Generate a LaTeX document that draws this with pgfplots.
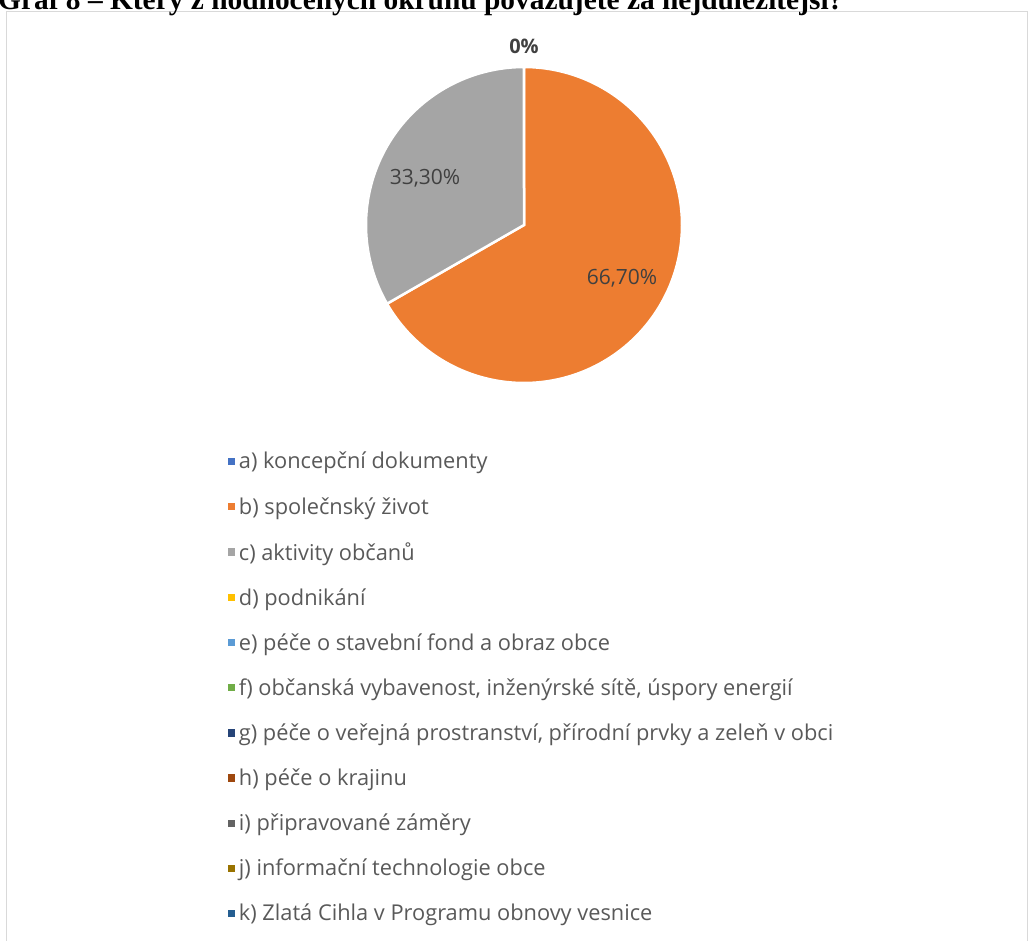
\documentclass[border=0pt]{standalone}
\usepackage{pgfplots}
\pgfplotsset{compat=1.18}
\usepackage{fontspec}
\setmainfont{Open Sans}
\newfontfamily\titlefont{Liberation Serif}
\definecolor{ca}{HTML}{4472C4}
\definecolor{cb}{HTML}{ED7D31}
\definecolor{cc}{HTML}{A5A5A5}
\definecolor{cd}{HTML}{FFC000}
\definecolor{ce}{HTML}{5B9BD5}
\definecolor{cf}{HTML}{70AD47}
\definecolor{cg}{HTML}{264478}
\definecolor{ch}{HTML}{9E480E}
\definecolor{ci}{HTML}{636363}
\definecolor{cj}{HTML}{997300}
\definecolor{ck}{HTML}{255E91}
\definecolor{txt}{HTML}{595959}
\definecolor{lbl}{HTML}{404040}
\begin{document}
\begin{tikzpicture}
\clip (0,0) rectangle (1030pt,940pt);
\begin{axis}[
  scale only axis, width=1030pt, height=940pt,
  xmin=0, xmax=1030, ymin=0, ymax=940, y dir=reverse,
  hide axis, clip=false,
  legend style={draw=none, fill=none, at={(axis cs:227.5,452)}, anchor=north west,
    font=\fontsize{21.8}{26}\selectfont, text=txt, row sep=26.9pt,
    legend cell align=left, inner sep=0pt,
    nodes={inner xsep=4pt, inner ysep=0pt}},
  legend image code/.code={\fill[#1, draw=none] (2pt,-3.6pt) rectangle (9.2pt,3.6pt);},
]
% frame and title
\draw[draw=black!15, line width=1pt] (axis cs:6,960) -- (axis cs:6,11) -- (axis cs:1027,11) -- (axis cs:1027,960);
\node[anchor=base west, inner sep=0pt, font=\titlefont\bfseries\fontsize{29.4}{32}\selectfont] at (axis cs:-2,9) {Graf 8 – Který z hodnocených okruhů považujete za nejdůležitější?};
% pie: b) 66.7 %, c) 33.3 %, others 0 %
\addplot[forget plot, fill=cb, draw=white, line width=2.5pt, domain=90:{90-360*0.667}, samples=150]
  ({524+158*cos(x)},{225-158*sin(x)}) -- (axis cs:524,225) -- cycle;
\addplot[forget plot, fill=cc, draw=white, line width=2.5pt, domain={90-360*0.667}:-270, samples=100]
  ({524+158*cos(x)},{225-158*sin(x)}) -- (axis cs:524,225) -- cycle;
\node[font=\fontsize{21}{24}\selectfont, text=lbl] at (axis cs:622,278) {66,70\%};
\node[font=\fontsize{21}{24}\selectfont, text=lbl] at (axis cs:425,178) {33,30\%};
\node[font=\bfseries\fontsize{20}{24}\selectfont, text=lbl] at (axis cs:524,46) {0\%};
\addlegendimage{fill=ca}\addlegendentry{a) koncepční dokumenty}
\addlegendimage{fill=cb}\addlegendentry{b) společnský život}
\addlegendimage{fill=cc}\addlegendentry{c) aktivity občanů}
\addlegendimage{fill=cd}\addlegendentry{d) podnikání}
\addlegendimage{fill=ce}\addlegendentry{e) péče o stavební fond a obraz obce}
\addlegendimage{fill=cf}\addlegendentry{f) občanská vybavenost, inženýrské sítě, úspory energií}
\addlegendimage{fill=cg}\addlegendentry{g) péče o veřejná prostranství, přírodní prvky a zeleň v obci}
\addlegendimage{fill=ch}\addlegendentry{h) péče o krajinu}
\addlegendimage{fill=ci}\addlegendentry{i) připravované záměry}
\addlegendimage{fill=cj}\addlegendentry{j) informační technologie obce}
\addlegendimage{fill=ck}\addlegendentry{k) Zlatá Cihla v Programu obnovy vesnice}
\end{axis}
\end{tikzpicture}
\end{document}
